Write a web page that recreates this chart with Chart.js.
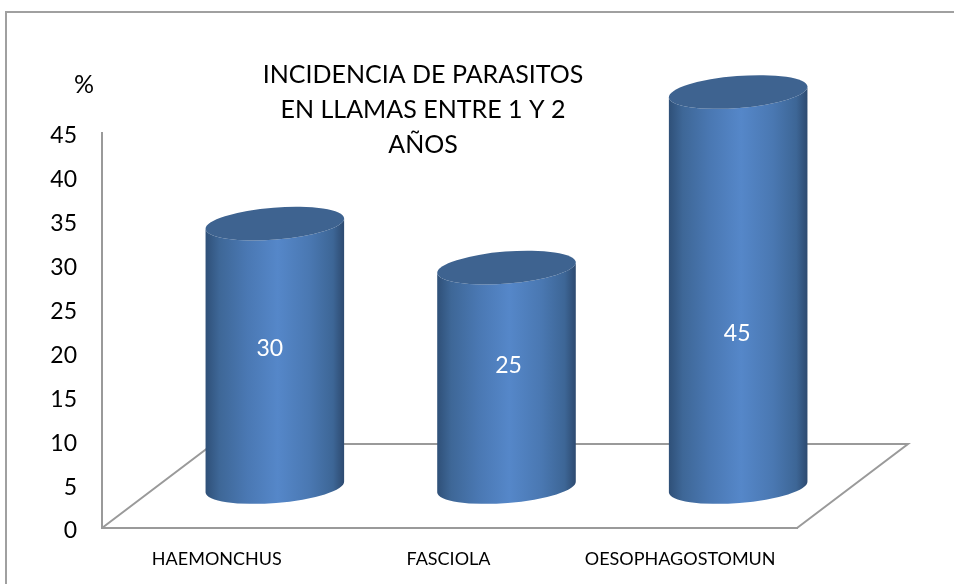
<!DOCTYPE html>
<html>
<head>
<meta charset="utf-8">
<title>Incidencia de parasitos</title>
<script src="https://cdn.jsdelivr.net/npm/chart.js@4/dist/chart.umd.min.js"></script>
<style>
	html, body { margin: 0; padding: 0; background: #fff; }
	canvas { display: block; }
</style>
</head>
<body>
<canvas id="myChart" width="954" height="584"></canvas>
<script>
/* 資料 */
var categories = ['HAEMONCHUS', 'FASCIOLA', 'OESOPHAGOSTOMUN'];
var values = [30, 25, 45];
var tickLabels = [0, 5, 10, 15, 20, 25, 30, 35, 40, 45];
var titleLines = ['INCIDENCIA DE PARASITOS', 'EN LLAMAS ENTRE 1 Y 2', 'AÑOS'];
var unitLabel = '%';

/* 3D 外觀 */
var FONT = 'Lato, "Open Sans", sans-serif';
var GRAY = '#9a9a9a';
var DEPTH_X = 57;   // 圓柱相對座標軸的位移
var DEPTH_Y = -41;
var FLOOR_X = 111;  // 地板的深度
var FLOOR_Y = -84;
var TILT = -4.5 * Math.PI / 180;
var RADIUS_Y = 16;
// 數值標籤是手動擺放的（以座標軸的值表示高度）
var labelLevels = [15.8, 13.8, 17.5];
var labelShifts = [-5, 2, -1];

function sideGradient(ctx, left, right) {
	var g = ctx.createLinearGradient(left, 0, right, 0);
	g.addColorStop(0, '#2f5078');
	g.addColorStop(0.1, '#3e6797');
	g.addColorStop(0.3, '#4a78b3');
	g.addColorStop(0.52, '#5587c9');
	g.addColorStop(0.75, '#4a78b2');
	g.addColorStop(0.92, '#3d6696');
	g.addColorStop(1, '#2d4a70');
	return g;
}

var scenePlugin = {
	id: 'scene',
	beforeDraw: function(chart) {
		var ctx = chart.ctx;
		// 外框
		ctx.save();
		ctx.strokeStyle = '#a0a0a0';
		ctx.lineWidth = 2;
		ctx.beginPath();
		ctx.moveTo(954, 12);
		ctx.lineTo(6, 12);
		ctx.lineTo(6, 584);
		ctx.stroke();
		ctx.restore();
	},
	beforeDatasetsDraw: function(chart) {
		var ctx = chart.ctx;
		var a = chart.chartArea;
		// 地板
		ctx.save();
		ctx.strokeStyle = GRAY;
		ctx.lineWidth = 2;
		ctx.beginPath();
		ctx.moveTo(a.left, a.bottom);
		ctx.lineTo(a.left + FLOOR_X, a.bottom + FLOOR_Y);
		ctx.lineTo(a.right + FLOOR_X, a.bottom + FLOOR_Y);
		ctx.lineTo(a.right, a.bottom);
		ctx.stroke();
		ctx.restore();
	},
	afterDatasetsDraw: function(chart) {
		var ctx = chart.ctx;
		var yScale = chart.scales.y;
		var bars = chart.getDatasetMeta(0).data;
		bars.forEach(function(bar, i) {
			var cx = bar.x + DEPTH_X;
			var top = bar.y + DEPTH_Y;
			var bottom = bar.base + DEPTH_Y;
			var rx = bar.width / 2;
			var left = cx - rx * Math.cos(TILT);
			var right = cx + rx * Math.cos(TILT);

			ctx.save();
			// 圓柱側面
			ctx.fillStyle = sideGradient(ctx, left, right);
			ctx.beginPath();
			ctx.ellipse(cx, bottom, rx, RADIUS_Y, TILT, 0, Math.PI);
			ctx.ellipse(cx, top, rx, RADIUS_Y, TILT, Math.PI, 0, true);
			ctx.closePath();
			ctx.fill();
			// 圓柱頂面
			ctx.fillStyle = '#3e6390';
			ctx.beginPath();
			ctx.ellipse(cx, top, rx, RADIUS_Y, TILT, 0, Math.PI * 2);
			ctx.fill();
			// 數值
			ctx.fillStyle = '#ffffff';
			ctx.font = '23px ' + FONT;
			ctx.textAlign = 'center';
			ctx.textBaseline = 'middle';
			ctx.fillText(String(values[i]), cx + labelShifts[i], yScale.getPixelForValue(labelLevels[i]) + DEPTH_Y);
			ctx.restore();
		});

		// 標題與單位
		ctx.save();
		ctx.fillStyle = '#000000';
		ctx.font = '25px ' + FONT;
		ctx.textAlign = 'center';
		ctx.textBaseline = 'middle';
		titleLines.forEach(function(line, i) {
			ctx.fillText(line, 423, 75 + i * 35);
		});
		ctx.fillText(unitLabel, 84, 85);
		ctx.restore();
	}
};

var ctx = document.getElementById('myChart');
var myChart = new Chart(ctx, {
	type: 'bar',
	data: {
		labels: categories,
		datasets: [{
			data: values,
			backgroundColor: 'rgba(0, 0, 0, 0)',
			barPercentage: 0.6,
			categoryPercentage: 1
		}]
	},
	plugins: [scenePlugin],
	options: {
		responsive: false,
		animation: false,
		layout: { padding: { top: 133, right: 157, left: 0, bottom: 0 } },
		plugins: {
			legend: { display: false },
			tooltip: { enabled: false },
			title: { display: false }
		},
		scales: {
			x: {
				afterFit: function(scale) { scale.height = 56; },
				grid: { display: false },
				border: { color: GRAY, width: 2 },
				ticks: {
					color: '#000000',
					font: { family: FONT, size: 18 },
					padding: 12,
					labelOffset: -1,
					maxRotation: 0
				}
			},
			y: {
				min: 0,
				max: 45,
				afterFit: function(scale) { scale.width = 102; },
				afterBuildTicks: function(scale) {
					scale.ticks = tickLabels.map(function(v) { return { value: v }; });
				},
				grid: { display: false },
				border: { color: GRAY, width: 2 },
				ticks: {
					color: '#000000',
					font: { family: FONT, size: 23 },
					padding: 17,
					labelOffset: 3
				}
			}
		}
	}
});
</script>
</body>
</html>
